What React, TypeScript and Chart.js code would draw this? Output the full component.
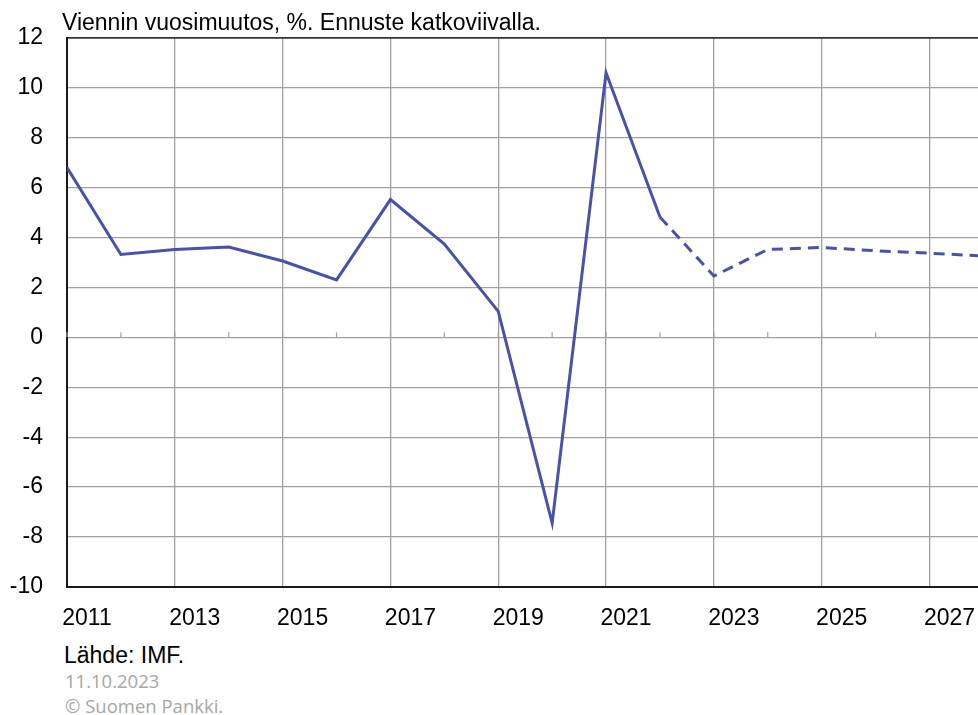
import React, { useEffect, useRef } from 'react';
import { Chart, registerables } from 'chart.js';

Chart.register(...registerables);

const years = [2011, 2012, 2013, 2014, 2015, 2016, 2017, 2018, 2019, 2020, 2021, 2022, 2023, 2024, 2025, 2026, 2027, 2028];
const exportGrowth = [6.8, 3.32, 3.52, 3.62, 3.06, 2.3, 5.52, 3.74, 1.04, -7.44, 10.6, 4.82, 2.46, 3.52, 3.6, 3.47, 3.37, 3.26];
const forecastStartIndex = 11; // segments from 2022 onward are forecast (dashed)
const yMin = -10;
const yMax = 12;
const yStep = 2;
const xMin = 2011;
const xMax = 2027.9;
const labeledYears = [2011, 2013, 2015, 2017, 2019, 2021, 2023, 2025, 2027];

const titleText = 'Viennin vuosimuutos, %. Ennuste katkoviivalla.';
const sourceText = 'Lähde: IMF.';
const dateText = '11.10.2023';
const copyrightText = '© Suomen Pankki.';

const LINE_COLOR = '#4a51a6';
const GRID_COLOR = '#a0a0a0';
const FONT = '"Liberation Sans", Arial, sans-serif';

const zeroTicksPlugin = {
  id: 'zeroTicks',
  beforeDatasetsDraw(chart: any) {
    const { ctx, scales } = chart;
    const x = scales.x;
    const y = scales.y;
    const y0 = y.getPixelForValue(0);
    ctx.save();
    ctx.strokeStyle = GRID_COLOR;
    ctx.lineWidth = 1.2;
    years.forEach((yr) => {
      if (yr > xMax) return;
      const px = x.getPixelForValue(yr);
      ctx.beginPath();
      ctx.moveTo(px, y0);
      ctx.lineTo(px, y0 - 5);
      ctx.stroke();
    });
    ctx.restore();
  },
};

export default function App() {
  const canvasRef = useRef<HTMLCanvasElement | null>(null);

  useEffect(() => {
    const canvas = canvasRef.current;
    if (!canvas) return;
    const chart = new Chart(canvas, {
      type: 'line',
      data: {
        datasets: [
          {
            data: years.map((yr, i) => ({ x: yr, y: exportGrowth[i] })),
            borderColor: LINE_COLOR,
            borderWidth: 3,
            pointRadius: 0,
            tension: 0,
            fill: false,
            segment: {
              borderDash: (ctx: any) => (ctx.p0DataIndex >= forecastStartIndex ? [11, 7] : undefined),
            },
          },
        ],
      },
      plugins: [zeroTicksPlugin],
      options: {
        responsive: false,
        animation: false,
        devicePixelRatio: 1,
        layout: { padding: { top: 37, left: 0, right: 0, bottom: 0 } },
        plugins: {
          legend: { display: false },
          title: { display: false },
          tooltip: { enabled: false },
        },
        scales: {
          x: {
            type: 'linear',
            min: xMin,
            max: xMax,
            afterBuildTicks: (scale: any) => {
              scale.ticks = years.filter((yr) => yr <= xMax).map((yr) => ({ value: yr }));
            },
            afterFit: (scale: any) => {
              scale.height = 53;
            },
            grid: {
              drawTicks: false,
              color: (ctx: any) => {
                const v = ctx.tick ? ctx.tick.value : 0;
                if (v === xMin) return 'rgba(0,0,0,0)';
                return labeledYears.includes(v) ? GRID_COLOR : 'rgba(0,0,0,0)';
              },
              lineWidth: 1.3,
            },
            border: { display: true, color: '#1a1a1a', width: 2 },
            ticks: {
              autoSkip: false,
              maxRotation: 0,
              minRotation: 0,
              padding: 18,
              labelOffset: 20,
              color: '#000',
              font: { family: FONT, size: 23 },
              callback: (value: any) => (labeledYears.includes(Number(value)) ? String(value) : ''),
            },
          },
          y: {
            type: 'linear',
            min: yMin,
            max: yMax,
            afterFit: (scale: any) => {
              scale.width = 67;
            },
            grid: {
              drawTicks: false,
              color: (ctx: any) => {
                const v = ctx.tick ? ctx.tick.value : 0;
                return v === yMax ? '#333333' : GRID_COLOR;
              },
              lineWidth: (ctx: any) => {
                const v = ctx.tick ? ctx.tick.value : 0;
                return v === yMax ? 1.8 : 1.3;
              },
            },
            border: { display: true, color: '#1a1a1a', width: 2 },
            ticks: {
              stepSize: yStep,
              padding: 24,
              color: '#000',
              font: { family: FONT, size: 23 },
            },
          },
        },
      },
    } as any);
    return () => chart.destroy();
  }, []);

  return (
    <div style={{ position: 'fixed', left: 0, top: 0, width: 978, height: 715, background: '#fff', overflow: 'hidden' }}>
      <canvas ref={canvasRef} width={978} height={640} style={{ position: 'absolute', left: 0, top: 0, width: 978, height: 640 }} />
      <div style={{ position: 'absolute', left: 62, top: 11, fontFamily: FONT, fontSize: 23, lineHeight: '23px', color: '#000', whiteSpace: 'nowrap' }}>
        {titleText}
      </div>
      <div style={{ position: 'absolute', left: 64, top: 644, fontFamily: FONT, fontSize: 23, lineHeight: '23px', color: '#000', whiteSpace: 'nowrap' }}>
        {sourceText}
      </div>
      <div style={{ position: 'absolute', left: 65, top: 672, fontFamily: '"Open Sans", sans-serif', fontSize: 18.5, lineHeight: '18px', color: '#a6a6a6', whiteSpace: 'nowrap' }}>
        {dateText}
      </div>
      <div style={{ position: 'absolute', left: 65, top: 697, fontFamily: '"Open Sans", sans-serif', fontSize: 18.5, lineHeight: '18px', color: '#a6a6a6', whiteSpace: 'nowrap' }}>
        {copyrightText}
      </div>
    </div>
  );
}
